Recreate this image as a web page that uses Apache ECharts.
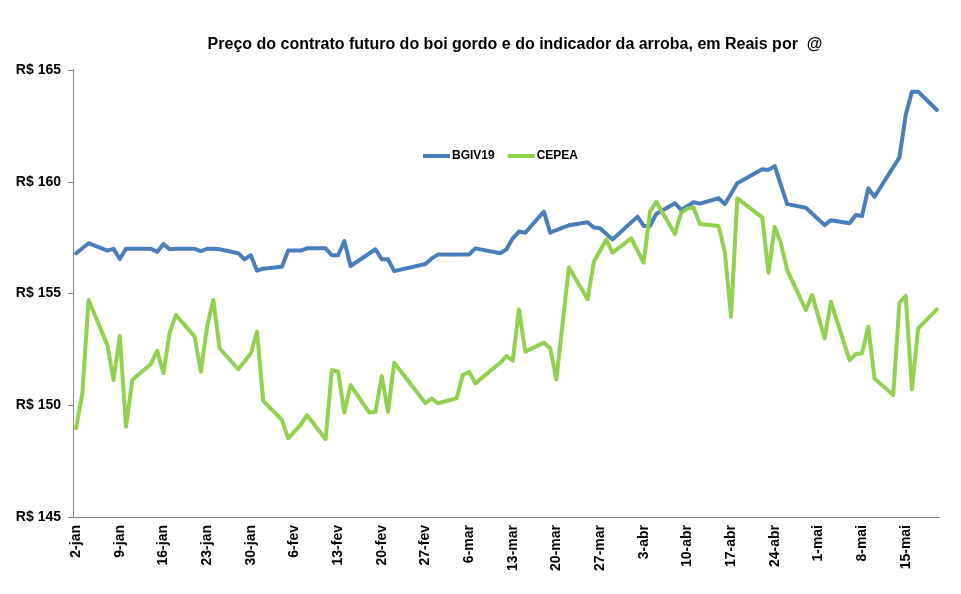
<!DOCTYPE html>
<html>
<head>
<meta charset="utf-8">
<script src="https://cdn.jsdelivr.net/npm/echarts@6/dist/echarts.min.js"></script>
<style>
  html, body { margin: 0; padding: 0; background: #fff; }
  #app { width: 961px; height: 594px; }
</style>
</head>
<body>
<div id="app"></div>
<script>
const meses = ['jan', 'fev', 'mar', 'abr', 'mai']
const diasNoMes = [31, 28, 31, 30, 31]

// dias de pregão (2019)
const pregoes = [
  '2-jan','3-jan','4-jan','7-jan','8-jan','9-jan','10-jan','11-jan','14-jan','15-jan','16-jan','17-jan','18-jan','21-jan','22-jan','23-jan','24-jan','25-jan','28-jan','29-jan','30-jan','31-jan',
  '1-fev','4-fev','5-fev','6-fev','7-fev','8-fev','11-fev','12-fev','13-fev','14-fev','15-fev','18-fev','19-fev','20-fev','21-fev','22-fev','25-fev','26-fev','27-fev','28-fev',
  '1-mar','4-mar','5-mar','6-mar','7-mar','8-mar','11-mar','12-mar','13-mar','14-mar','15-mar','18-mar','19-mar','20-mar','21-mar','22-mar','25-mar','26-mar','27-mar','28-mar','29-mar',
  '1-abr','2-abr','3-abr','4-abr','5-abr','8-abr','9-abr','10-abr','11-abr','12-abr','15-abr','16-abr','17-abr','18-abr','19-abr','22-abr','23-abr','24-abr','25-abr','26-abr','29-abr','30-abr',
  '1-mai','2-mai','3-mai','6-mai','7-mai','8-mai','9-mai','10-mai','13-mai','14-mai','15-mai','16-mai','17-mai','20-mai'
]

const bgiv19 = [
  156.80, null, 157.25, 156.92, 157.00, 156.54, 157.00, 157.00, 157.00, 156.86, 157.21, 156.98, 157.00, 157.00, 156.90, 157.00, 157.00, 156.98, 156.80, 156.53, 156.72, 156.02,
  156.11, 156.20, 156.92, 156.92, 156.92, 157.02, 157.02, 156.71, 156.71, 157.35, 156.23, null, 156.98, 156.53, 156.53, 156.00, null, null, 156.32, 156.57,
  156.74, null, null, 156.74, 157.02, null, 156.80, 156.98, 157.47, 157.77, 157.72, 158.66, 157.72, 157.84, 157.95, 158.05, 158.19, 157.95, 157.92, null, 157.42,
  null, 158.44, 158.02, 158.02, 158.56, 159.04, 158.74, null, 159.08, 159.02, 159.26, 159.00, null, 159.93, null, 160.56, 160.53, 160.70, null, 159.00, 158.84, null,
  null, 158.06, 158.28, 158.14, 158.51, 158.47, 159.71, 159.33, null, 161.09, 162.99, 164.03, 164.03, 163.21
]

const cepea = [
  148.97, 150.53, 154.71, 152.70, 151.13, 153.10, 149.04, 151.13, 151.85, 152.44, 151.43, 153.25, 154.04, 153.07, 151.50, 153.52, 154.71, 152.55, 151.61, null, 152.32, 153.29,
  150.20, 149.34, 148.52, null, 149.12, 149.56, 148.48, 151.58, 151.50, 149.67, 150.90, 149.67, 149.71, 151.31, 149.71, 151.90, null, null, 150.09, 150.31,
  150.09, 150.31, 151.35, 151.50, 150.98, null, 151.90, 152.20, 151.99, 154.29, 152.40, 152.80, 152.55, 151.16, null, 156.17, 154.74, 156.42, null, 157.42, 156.83,
  157.47, null, 156.38, 158.66, 159.11, 157.66, 158.62, 158.80, 158.85, 158.11, 158.02, 156.87, 153.96, 159.26, null, 158.41, 155.93, 157.99, 157.25, 156.05, 154.26, 154.93,
  null, 152.99, 154.63, 152.02, 152.29, 152.32, 153.51, 151.20, 150.46, 154.59, 154.89, 150.71, 153.44, 154.29
]

// eixo de datas: todos os dias de 2-jan a 20-mai
const categorias = []
for (let m = 0; m < meses.length; m++) {
  for (let d = 1; d <= diasNoMes[m]; d++) {
    if (m === 0 && d < 2) continue
    if (m === 4 && d > 20) break
    categorias.push(d + '-' + meses[m])
  }
}

const fonte = '"Liberation Sans", Arial, sans-serif'
const corEixo = '#868686'

const chart = echarts.init(document.getElementById('app'), null, { renderer: 'canvas' })

chart.setOption({
  backgroundColor: '#fff',
  animation: false,
  title: {
    text: 'Preço do contrato futuro do boi gordo e do indicador da arroba, em Reais por  @',
    left: 510,
    textAlign: 'center',
    top: 32,
    textStyle: {
      fontFamily: fonte,
      fontSize: 16,
      fontWeight: 'bold',
      color: '#000'
    }
  },
  legend: {
    data: ['BGIV19', 'CEPEA'],
    left: 418,
    top: 145,
    icon: 'rect',
    itemWidth: 27,
    itemHeight: 4,
    itemGap: 13,
    textStyle: {
      fontFamily: fonte,
      fontSize: 12,
      fontWeight: 'bold',
      color: '#000',
      padding: [0, 0, 0, -3]
    }
  },
  grid: {
    left: 73,
    right: 21,
    top: 70,
    bottom: 77
  },
  xAxis: {
    type: 'category',
    data: categorias,
    boundaryGap: true,
    axisLine: { lineStyle: { color: corEixo, width: 1 } },
    axisTick: { interval: 6, length: 5, lineStyle: { color: corEixo } },
    axisLabel: {
      interval: 6,
      rotate: 90,
      margin: 8,
      fontFamily: fonte,
      fontSize: 14,
      fontWeight: 'bold',
      color: '#000'
    },
    splitLine: { show: false }
  },
  yAxis: {
    type: 'value',
    min: 145,
    max: 165,
    interval: 5,
    axisLine: { show: true, lineStyle: { color: corEixo, width: 1 } },
    axisTick: { show: true, length: 5, lineStyle: { color: corEixo } },
    axisLabel: {
      formatter: 'R$ {value}',
      margin: 12,
      fontFamily: fonte,
      fontSize: 14,
      fontWeight: 'bold',
      color: '#000'
    },
    splitLine: { show: false }
  },
  series: [
    {
      name: 'BGIV19',
      type: 'line',
      data: pregoes.map((d, i) => [d, bgiv19[i]]),
      connectNulls: true,
      showSymbol: false,
      symbol: 'none',
      color: '#4A7EBB',
      lineStyle: { width: 4, color: '#4A7EBB', join: 'round', cap: 'round' }
    },
    {
      name: 'CEPEA',
      type: 'line',
      data: pregoes.map((d, i) => [d, cepea[i]]),
      connectNulls: true,
      showSymbol: false,
      symbol: 'none',
      color: '#92D050',
      lineStyle: { width: 4, color: '#92D050', join: 'round', cap: 'round' }
    }
  ]
})
</script>
</body>
</html>
